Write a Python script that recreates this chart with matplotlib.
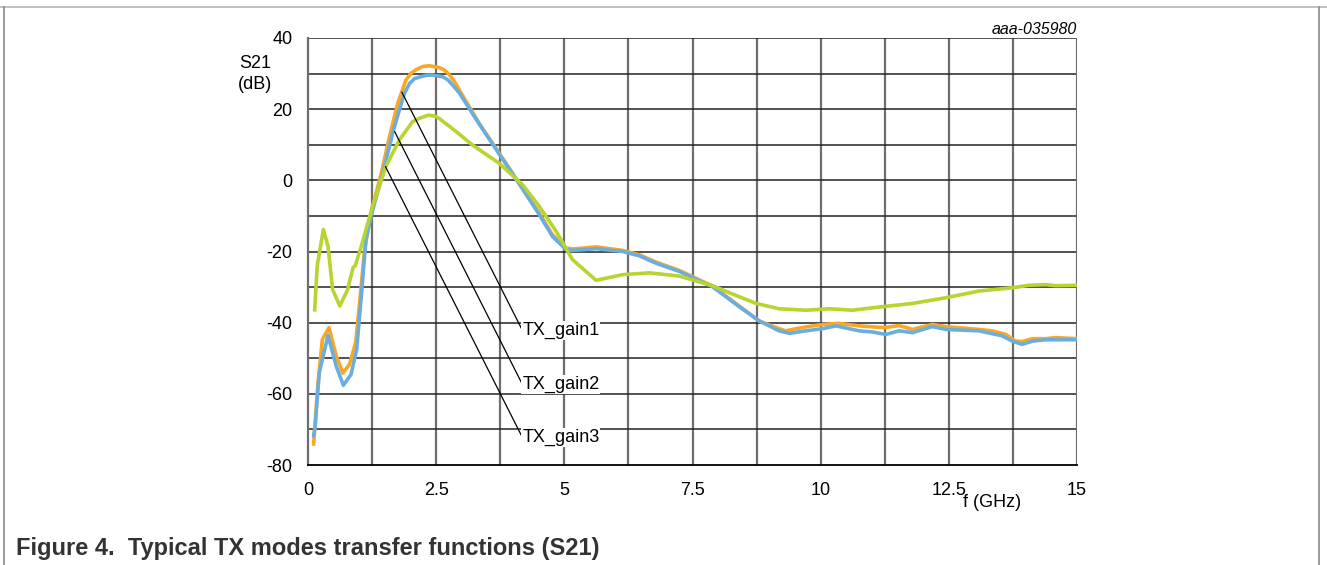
import matplotlib.pyplot as plt
import numpy as np
from matplotlib.lines import Line2D

plt.rcParams['font.family'] = ['Liberation Sans', 'DejaVu Sans']
plt.rcParams['axes.unicode_minus'] = False

# S21 curves (f in GHz, S21 in dB)
f_gain1 = [0.11, 0.19, 0.28, 0.41, 0.55, 0.68, 0.81, 0.93, 1.00, 1.10, 1.17, 1.26,
           1.43, 1.59, 1.75, 1.91, 2.01, 2.11, 2.24, 2.37, 2.56, 2.66, 2.76, 2.86,
           2.95, 3.34, 3.73, 4.12,
           4.51, 4.77, 5.03, 5.16, 5.62, 6.14, 6.46, 6.79, 7.24, 7.89, 8.41, 8.80,
           9.13, 9.32, 9.45, 9.71, 10.03, 10.36, 10.75, 11.24, 11.53, 11.79, 12.18,
           12.44, 13.09, 13.35, 13.61, 13.80, 13.93, 14.13, 14.39, 14.58, 15.0]
s_gain1 = [-74.1, -57.8, -44.7, -41.4, -49.3, -54.2, -51.7, -45.6, -35.4, -20.0, -14.0, -7.3,
           2.0, 12.3, 21.6, 28.2, 30.1, 31.1, 32.0, 32.2, 31.7, 31.0, 29.6, 27.7,
           25.4, 16.0, 7.6, -0.8,
           -9.2, -15.3, -19.0, -19.3, -18.7, -19.7, -20.9, -23.0, -25.3, -29.7, -35.3, -39.5,
           -41.4, -42.3, -41.9, -41.2, -40.5, -40.2, -40.9, -41.4, -40.8, -41.9, -40.5,
           -41.1, -41.9, -42.3, -43.3, -45.2, -45.3, -44.5, -44.5, -44.2, -44.5]

f_gain2 = [0.11, 0.14, 0.22, 0.39, 0.55, 0.69, 0.84, 0.95, 1.04, 1.13, 1.23,
           1.46, 1.65, 1.82, 1.88, 1.98, 2.08, 2.17, 2.30, 2.43, 2.63, 2.73, 2.82,
           2.95, 3.34, 3.73, 4.12,
           4.51, 4.77, 5.03, 5.16, 5.62, 6.14, 6.46, 6.79, 7.24, 7.89, 8.41, 8.80,
           9.19, 9.39, 9.71, 10.03, 10.30, 10.75, 11.00, 11.27, 11.53, 11.79, 12.18,
           12.44, 13.09, 13.54, 13.74, 13.93, 14.13, 14.39, 15.0]
s_gain2 = [-71.8, -69.0, -54.0, -43.6, -52.2, -57.6, -54.5, -47.5, -32.5, -16.7, -10.1,
           2.0, 13.2, 21.6, 24.4, 27.2, 28.6, 29.0, 29.5, 29.6, 29.1, 28.2, 26.8,
           24.6, 15.8, 7.4, -1.0,
           -9.6, -15.8, -19.4, -19.7, -19.2, -20.0, -21.2, -23.3, -25.6, -29.9, -35.5, -39.5,
           -42.3, -43.0, -42.3, -41.7, -40.9, -42.3, -42.6, -43.3, -42.3, -42.8, -41.1,
           -41.9, -42.3, -43.7, -45.2, -46.1, -45.2, -44.8, -44.8]

f_gain3 = [0.13, 0.18, 0.30, 0.39, 0.48, 0.62, 0.77, 0.88, 0.92, 1.02, 1.26,
           1.52, 1.78, 2.04, 2.17, 2.34, 2.47, 2.56, 2.89, 3.21, 3.73, 4.19, 4.51,
           4.84, 5.16,
           5.62, 6.14, 6.66, 7.24, 7.89, 8.22, 8.74, 9.19, 9.71, 10.17, 10.62,
           11.14, 11.79, 12.44, 13.09, 13.74, 14.06, 14.39, 14.58, 15.0]
s_gain3 = [-36.4, -24.0, -13.8, -18.5, -30.7, -35.3, -30.8, -24.5, -24.0, -19.5, -7.3,
           3.9, 11.3, 16.5, 17.4, 18.3, 18.1, 17.4, 13.7, 9.9, 4.8, -1.3, -7.3,
           -14.3, -22.3,
           -28.1, -26.5, -26.0, -26.9, -29.6, -31.6, -34.6, -36.1, -36.5, -36.1, -36.5,
           -35.6, -34.6, -33.0, -31.1, -30.2, -29.5, -29.3, -29.6, -29.5]

labels = ['TX_gain1', 'TX_gain2', 'TX_gain3']
# where each leader line touches its curve
label_tips = [(1.83, 24.8), (1.69, 13.7), (1.51, 3.9)]
label_pos = [(4.18, -42.1), (4.18, -57.3), (4.18, -72.2)]

fig = plt.figure(figsize=(13.27, 5.65), dpi=100)
ax = fig.add_axes([308 / 1327, 100 / 565, 769 / 1327, 427 / 565])

ax.plot(f_gain1, s_gain1, color='#F9A825', lw=2.6, zorder=3)
ax.plot(f_gain2, s_gain2, color='#6AAEDF', lw=2.6, zorder=3)
ax.plot(f_gain3, s_gain3, color='#B8D430', lw=2.6, zorder=3)

for lab, tip, pos in zip(labels, label_tips, label_pos):
    ax.annotate(lab, xy=tip, xytext=pos, fontsize=13, va='center', ha='left',
                arrowprops=dict(arrowstyle='-', color='black', lw=0.9,
                                shrinkA=0, shrinkB=0, relpos=(0, 0.5)),
                bbox=dict(boxstyle='square,pad=0.05', fc='white', ec='none'),
                zorder=4)

ax.set_xlim(0, 15)
ax.set_ylim(-80, 40)
ax.set_xticks([0, 2.5, 5, 7.5, 10, 12.5, 15])
ax.set_xticklabels(['0', '2.5', '5', '7.5', '10', '12.5', '15'])
ax.set_yticks(np.arange(-80, 41, 20))
for x in np.arange(1.25, 15, 1.25):
    ax.axvline(x, color='#6e6e6e', lw=1.6, zorder=1)
for y in np.arange(-70, 41, 10):
    ax.axhline(y, color='#222222', lw=1.1, zorder=1)
ax.axvline(15, color='#6e6e6e', lw=1.6, zorder=1)

ax.tick_params(length=0, labelsize=13)
ax.tick_params(axis='y', pad=11)
ax.tick_params(axis='x', pad=12)
for side in ['top', 'right']:
    ax.spines[side].set_visible(False)
ax.spines['left'].set_color('#6e6e6e')
ax.spines['left'].set_linewidth(1.6)
ax.spines['bottom'].set_linewidth(1.3)

ax.text(-1.03, 30.0, 'S21\n(dB)', ha='center', va='center', fontsize=13,
        linespacing=1.3)
ax.text(13.35, -90.5, 'f (GHz)', ha='center', va='center', fontsize=13)
ax.text(15, 42.5, 'aaa-035980', ha='right', va='center', fontsize=11.5,
        style='italic')

# page frame and caption
fig.add_artist(Line2D([0, 1], [1 - 7 / 565] * 2, color='#b5b5b5', lw=1.2))
fig.add_artist(Line2D([4 / 1327] * 2, [0, 1 - 7 / 565], color='#8a8a8a', lw=1.2))
fig.add_artist(Line2D([1319 / 1327] * 2, [0, 1 - 7 / 565], color='#8a8a8a', lw=1.2))
fig.text(16 / 1327, 1 - 548 / 565, 'Figure 4.  Typical TX modes transfer functions (S21)',
         fontsize=17, fontweight='bold', color='#333333', va='center')

fig.savefig('out.png', dpi=100)
